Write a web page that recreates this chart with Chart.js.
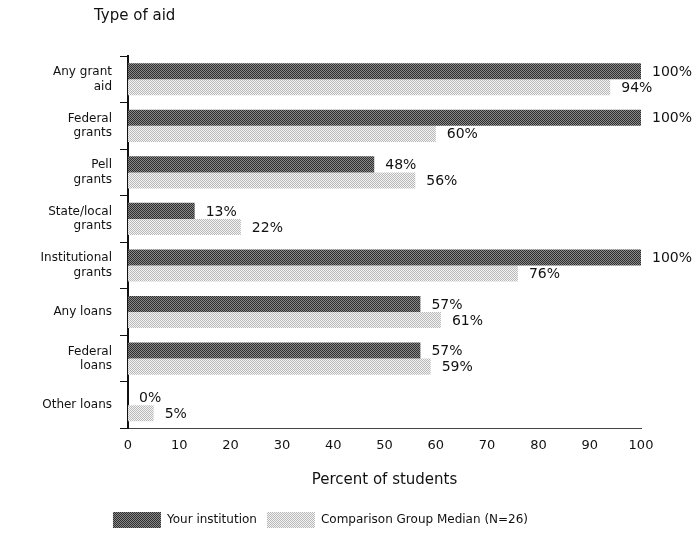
<!DOCTYPE html>
<html>
<head>
<meta charset="utf-8">
<script src="https://cdn.jsdelivr.net/npm/chart.js@4/dist/chart.umd.min.js"></script>
<style>
  html, body { margin: 0; padding: 0; background: #fff; }
  #wrap { width: 698px; height: 538px; }
</style>
</head>
<body>
<div id="wrap"><canvas id="aid_canvas"></canvas></div>
<script>
var categories = [
    ['Any grant', 'aid'],
    ['Federal', 'grants'],
    ['Pell', 'grants'],
    ['State/local', 'grants'],
    ['Institutional', 'grants'],
    'Any loans',
    ['Federal', 'loans'],
    'Other loans'
];
var yourInstitution = [100, 100, 48, 13, 100, 57, 57, 0];
var comparisonMedian = [94, 60, 56, 22, 76, 61, 59, 5];
var xTicks = [0, 10, 20, 30, 40, 50, 60, 70, 80, 90, 100];

var FONT = 'DejaVu Sans';
var TEXT = '#111';

// small dithered textures, like the halftone bars of the original
function makePattern(a, b) {
    var c = document.createElement('canvas');
    c.width = 4; c.height = 4;
    var g = c.getContext('2d');
    for (var y = 0; y < 4; y++) {
        for (var x = 0; x < 4; x++) {
            g.fillStyle = ((x + y) % 2 === 0) ? a : b;
            g.fillRect(x, y, 1, 1);
        }
    }
    return g.createPattern(c, 'repeat');
}
var darkFill = makePattern('#2e2e2e', '#8a8a8a');
var lightFill = makePattern('#b8b8b8', '#f4f4f4');

var labelPlugin = {
    id: 'extras',
    afterDraw: function (chart) {
        var ctx = chart.ctx;
        ctx.save();
        ctx.fillStyle = TEXT;
        ctx.textAlign = 'left';
        ctx.textBaseline = 'middle';
        // chart title, top left
        ctx.font = '15px "' + FONT + '"';
        ctx.fillText('Type of aid', 94, 16);
        // value labels at bar ends
        ctx.font = '14px "' + FONT + '"';
        chart.data.datasets.forEach(function (ds, i) {
            var meta = chart.getDatasetMeta(i);
            meta.data.forEach(function (bar, j) {
                ctx.fillText(ds.data[j] + '%', bar.x + 11, bar.y + 1);
            });
        });
        ctx.restore();
    }
};

var chart = new Chart(document.getElementById('aid_canvas'), {
    type: 'bar',
    data: {
        labels: categories,
        datasets: [{
            label: 'Your institution',
            data: yourInstitution,
            backgroundColor: darkFill,
            borderWidth: 0,
            categoryPercentage: 0.69,
            barPercentage: 1.0
        }, {
            label: 'Comparison Group Median (N=26)',
            data: comparisonMedian,
            backgroundColor: lightFill,
            borderWidth: 0,
            categoryPercentage: 0.69,
            barPercentage: 1.0
        }]
    },
    options: {
        indexAxis: 'y',
        responsive: true,
        maintainAspectRatio: false,
        animation: false,
        layout: {
            padding: { top: 56, right: 57, left: 0, bottom: 0 }
        },
        scales: {
            x: {
                min: 0,
                max: 100,
                afterBuildTicks: function (scale) {
                    scale.ticks = xTicks.map(function (v) { return { value: v }; });
                },
                grid: { display: false, drawTicks: false },
                border: { display: true, color: '#444', width: 1 },
                ticks: {
                    padding: 9,
                    color: TEXT,
                    font: { family: FONT, size: 13 }
                },
                title: {
                    display: true,
                    text: 'Percent of students',
                    color: TEXT,
                    font: { family: FONT, size: 15 },
                    padding: { top: 9, bottom: 13 }
                }
            },
            y: {
                afterFit: function (scale) { scale.width = 128; },
                grid: {
                    drawOnChartArea: false,
                    drawTicks: true,
                    tickLength: 8,
                    color: '#111',
                    lineWidth: 1
                },
                border: { display: true, color: '#111', width: 2 },
                ticks: {
                    padding: 8,
                    color: TEXT,
                    font: { family: FONT, size: 12 }
                }
            }
        },
        plugins: {
            title: { display: false },
            tooltip: { enabled: false },
            legend: {
                display: true,
                position: 'bottom',
                labels: {
                    boxWidth: 48,
                    boxHeight: 16,
                    padding: 10,
                    color: TEXT,
                    font: { family: FONT, size: 12 }
                }
            }
        }
    },
    plugins: [labelPlugin]
});
</script>
</body>
</html>
